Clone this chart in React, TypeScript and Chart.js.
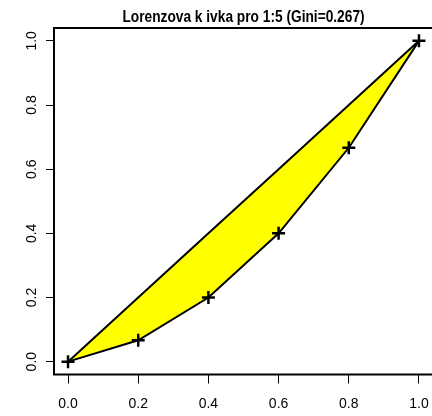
import React, { useEffect, useRef } from "react";
import { Chart, registerables } from "chart.js";

Chart.register(...registerables);

const titleText = "Lorenzova k ivka pro 1:5 (Gini=0.267)";
const shareX = [0, 0.2, 0.4, 0.6, 0.8, 1.0];
const lorenzY = [0, 0.0667, 0.2, 0.4, 0.6667, 1.0];
const equalityY = [0, 0.2, 0.4, 0.6, 0.8, 1.0];
const xTickValues = [0, 0.2, 0.4, 0.6, 0.8, 1.0];
const yTickValues = [0, 0.2, 0.4, 0.6, 0.8, 1.0];

const boxPlugin = {
  id: "rbox",
  afterDraw(chart: any) {
    const { ctx, chartArea } = chart;
    ctx.save();
    ctx.strokeStyle = "#000";
    ctx.lineWidth = 2;
    ctx.strokeRect(chartArea.left, chartArea.top, chartArea.right - chartArea.left, chartArea.bottom - chartArea.top);
    // title centred over the plot region (R style)
    const cx = (chartArea.left + chartArea.right) / 2;
    ctx.fillStyle = "#000";
    ctx.font = "bold 15px 'Liberation Sans', Arial, sans-serif";
    ctx.textAlign = "center";
    ctx.textBaseline = "alphabetic";
    ctx.translate(cx, 22);
    ctx.scale(0.915, 1.05);
    ctx.fillText(titleText, 0, 0);
    ctx.restore();
  },
};

export default function App() {
  const ref = useRef<HTMLCanvasElement | null>(null);
  useEffect(() => {
    if (!ref.current) return;
    const chart = new Chart(ref.current, {
      type: "scatter",
      data: {
        datasets: [
          {
            label: "Lorenz",
            data: shareX.map((x, i) => ({ x, y: lorenzY[i] })),
            showLine: true,
            borderColor: "#000",
            borderWidth: 2,
            backgroundColor: "#FFFF00",
            fill: { target: 1, above: "#FFFF00", below: "#FFFF00" },
            pointStyle: "cross",
            pointRadius: 6.5,
            pointBorderWidth: 2.5,
            pointBorderColor: "#000",
            tension: 0,
            order: 1,
          },
          {
            label: "Equality",
            data: shareX.map((x, i) => ({ x, y: equalityY[i] })),
            showLine: true,
            borderColor: "#000",
            borderWidth: 2,
            pointRadius: 0,
            fill: false,
            tension: 0,
            order: 2,
          },
        ],
      },
      options: {
        animation: false,
        responsive: false,
        maintainAspectRatio: false,
        layout: { autoPadding: false, padding: { top: 28, left: 0, right: 7, bottom: 0 } },
        plugins: {
          legend: { display: false },
          tooltip: { enabled: false },
          title: { display: false },
          filler: { drawTime: "beforeDatasetsDraw" },
        },
        scales: {
          x: {
            type: "linear",
            min: -0.04,
            max: 1.04,
            afterBuildTicks: (s: any) => {
              s.ticks = xTickValues.map((v) => ({ value: v }));
            },
            afterFit: (s: any) => {
              s.height = 41.5;
              s.paddingLeft = 0;
              s.paddingRight = 0;
            },
            grid: { display: true, drawOnChartArea: false, drawTicks: true, tickLength: 9, color: "#000", lineWidth: 1 },
            border: { display: false },
            ticks: {
              color: "#000",
              padding: 12,
              maxRotation: 0,
              autoSkip: false,
              font: { family: "'Liberation Sans', Arial, sans-serif", size: 14 },
              callback: (v: any) => Number(v).toFixed(1),
            },
          },
          y: {
            type: "linear",
            min: -0.04,
            max: 1.04,
            afterBuildTicks: (s: any) => {
              s.ticks = yTickValues.map((v) => ({ value: v }));
            },
            afterFit: (s: any) => {
              s.width = 54;
              s.paddingTop = 0;
              s.paddingBottom = 0;
            },
            grid: { display: true, drawOnChartArea: false, drawTicks: true, tickLength: 8, color: "#000", lineWidth: 1 },
            border: { display: false },
            ticks: {
              color: "#000",
              padding: 4,
              minRotation: 90,
              maxRotation: 90,
              crossAlign: "center",
              autoSkip: false,
              font: { family: "'Liberation Sans', Arial, sans-serif", size: 14 },
              callback: (v: any) => Number(v).toFixed(1),
            },
          },
        },
      },
      plugins: [boxPlugin],
    });
    return () => chart.destroy();
  }, []);
  return (
    <div style={{ position: "fixed", left: 0, top: 0, width: 432, height: 416, overflow: "hidden", background: "#fff" }}>
      <canvas ref={ref} width={440} height={416} style={{ display: "block", width: 440, height: 416 }} />
    </div>
  );
}
